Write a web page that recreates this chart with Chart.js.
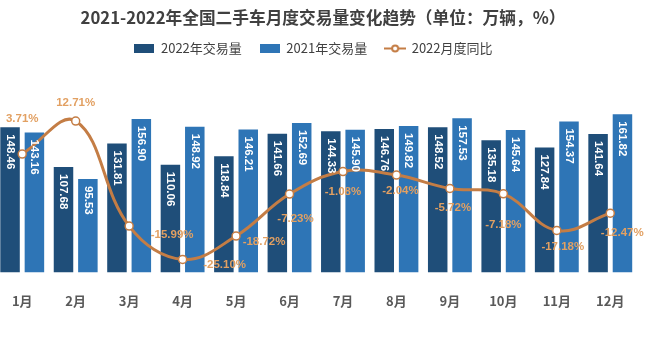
<!DOCTYPE html>
<html>
<head>
<meta charset="utf-8">
<script src="https://cdn.jsdelivr.net/npm/chart.js@4.4.1/dist/chart.umd.min.js"></script>
<style>
  body { margin: 0; background: #fff; overflow: hidden; }
  #wrap { position: absolute; left: -10px; top: 0; width: 675px; height: 350px; }
</style>
</head>
<body>
<div id="wrap"><canvas id="chart"></canvas></div>
<script>
// Data
const months = ['1月', '2月', '3月', '4月', '5月', '6月', '7月', '8月', '9月', '10月', '11月', '12月'];
const sales2022 = [148.46, 107.68, 131.81, 110.06, 118.84, 141.66, 144.33, 146.76, 148.52, 135.18, 127.84, 141.64];
const sales2021 = [143.16, 95.53, 156.90, 148.92, 146.21, 152.69, 145.90, 149.82, 157.53, 145.64, 154.37, 161.82];
const yoy2022 = [3.71, 12.71, -15.99, -25.10, -18.72, -7.23, -1.08, -2.04, -5.72, -7.18, -17.18, -12.47];

// label offsets for the % labels (dx, dy from the point)
const pctOffsets = [[0, -35], [0, -18], [43, 9], [42, 5], [28, 6], [6, 25], [0, 20], [4, 16], [3, 19], [0, 31], [6, 16], [12, 20]];

const TITLE = '2021-2022年全国二手车月度交易量变化趋势（单位：万辆，%）';
const DARK = '#1F4E79';
const LIGHT = '#2E75B6';
const ORANGE = '#C47D45';
const ORANGE_TXT = '#E2A062';
const CJK = '"Noto Sans CJK SC", "Noto Sans", sans-serif';
const NUM = 'bold 11.5px "Liberation Sans", Arial, sans-serif';
const WRAP_LEFT = -10;

// legend icons
function boxIcon(color) {
  const c = document.createElement('canvas');
  c.width = 20; c.height = 9;
  const g = c.getContext('2d');
  g.fillStyle = color;
  g.fillRect(0, 0, 20, 9);
  return c;
}
function lineIcon() {
  const c = document.createElement('canvas');
  c.width = 22; c.height = 9;
  const g = c.getContext('2d');
  g.strokeStyle = ORANGE; g.lineWidth = 2;
  g.beginPath(); g.moveTo(0, 4.5); g.lineTo(22, 4.5); g.stroke();
  g.fillStyle = '#fff';
  g.beginPath(); g.arc(11, 4.5, 3, 0, Math.PI * 2); g.fill(); g.stroke();
  return c;
}
const icons = [boxIcon(DARK), boxIcon(LIGHT), lineIcon()];

// title + value labels
const labelPlugin = {
  id: 'labels',
  afterDatasetsDraw(chart) {
    const ctx = chart.ctx;
    ctx.save();
    [0, 1].forEach(di => {
      const meta = chart.getDatasetMeta(di);
      const vals = chart.data.datasets[di].data;
      meta.data.forEach((bar, i) => {
        ctx.save();
        ctx.translate(bar.x, bar.y + 7);
        ctx.rotate(Math.PI / 2);
        ctx.fillStyle = '#fff';
        ctx.font = NUM;
        ctx.textAlign = 'left';
        ctx.textBaseline = 'middle';
        ctx.fillText(vals[i].toFixed(2), 0, 0);
        ctx.restore();
      });
    });
    const lm = chart.getDatasetMeta(2);
    ctx.fillStyle = ORANGE_TXT;
    ctx.font = NUM;
    ctx.textAlign = 'center';
    ctx.textBaseline = 'middle';
    lm.data.forEach((pt, i) => {
      const [dx, dy] = pctOffsets[i];
      ctx.fillText(yoy2022[i].toFixed(2) + '%', pt.x + dx, pt.y + dy);
    });
    ctx.restore();
  },
  afterDraw(chart) {
    const ctx = chart.ctx;
    ctx.save();
    ctx.fillStyle = '#404040';
    ctx.font = 'bold 16.7px ' + CJK;
    ctx.textAlign = 'center';
    ctx.textBaseline = 'middle';
    ctx.fillText(TITLE, 323 - WRAP_LEFT, 18);
    ctx.restore();
  }
};

const chartTop = 65;
const chartBottom = 272;
new Chart(document.getElementById('chart'), {
  type: 'bar',
  data: {
    labels: months,
    datasets: [
      { label: '2022年交易量', data: sales2022, backgroundColor: DARK, yAxisID: 'y', order: 2 },
      { label: '2021年交易量', data: sales2021, backgroundColor: LIGHT, yAxisID: 'y', order: 3 },
      {
        type: 'line', label: '2022月度同比', data: yoy2022, yAxisID: 'y2', order: 0,
        borderColor: ORANGE, borderWidth: 3, tension: 0.4,
        pointRadius: 4, pointBackgroundColor: '#fff', pointBorderColor: ORANGE, pointBorderWidth: 1.5
      }
    ]
  },
  options: {
    responsive: true,
    maintainAspectRatio: false,
    animation: false,
    datasets: { bar: { categoryPercentage: 0.912, barPercentage: 0.8 } },
    layout: { padding: { left: 0, right: 28, top: 24, bottom: 29 } },
    plugins: {
      title: { display: false },
      legend: {
        labels: {
          usePointStyle: true,
          pointStyleWidth: 20,
          padding: 18,
          color: '#404040',
          font: { family: CJK, size: 13 },
          generateLabels: () => [0, 1, 2].map(i => ({
            text: ['2022年交易量', '2021年交易量', '2022月度同比'][i],
            pointStyle: icons[i],
            datasetIndex: i,
            fontColor: '#404040'
          }))
        }
      },
      tooltip: { enabled: false }
    },
    scales: {
      x: {
        grid: { display: false },
        border: { display: false },
        ticks: { color: '#595959', padding: 12.5, font: { family: CJK, size: 13, weight: 'bold' } }
      },
      y: { display: false, min: 0, max: (chartBottom - chartTop) / 0.976 },
      y2: { display: false, min: -28.66, max: -28.66 + (chartBottom - chartTop) / 3.65 }
    }
  },
  plugins: [labelPlugin]
});
</script>
</body>
</html>
